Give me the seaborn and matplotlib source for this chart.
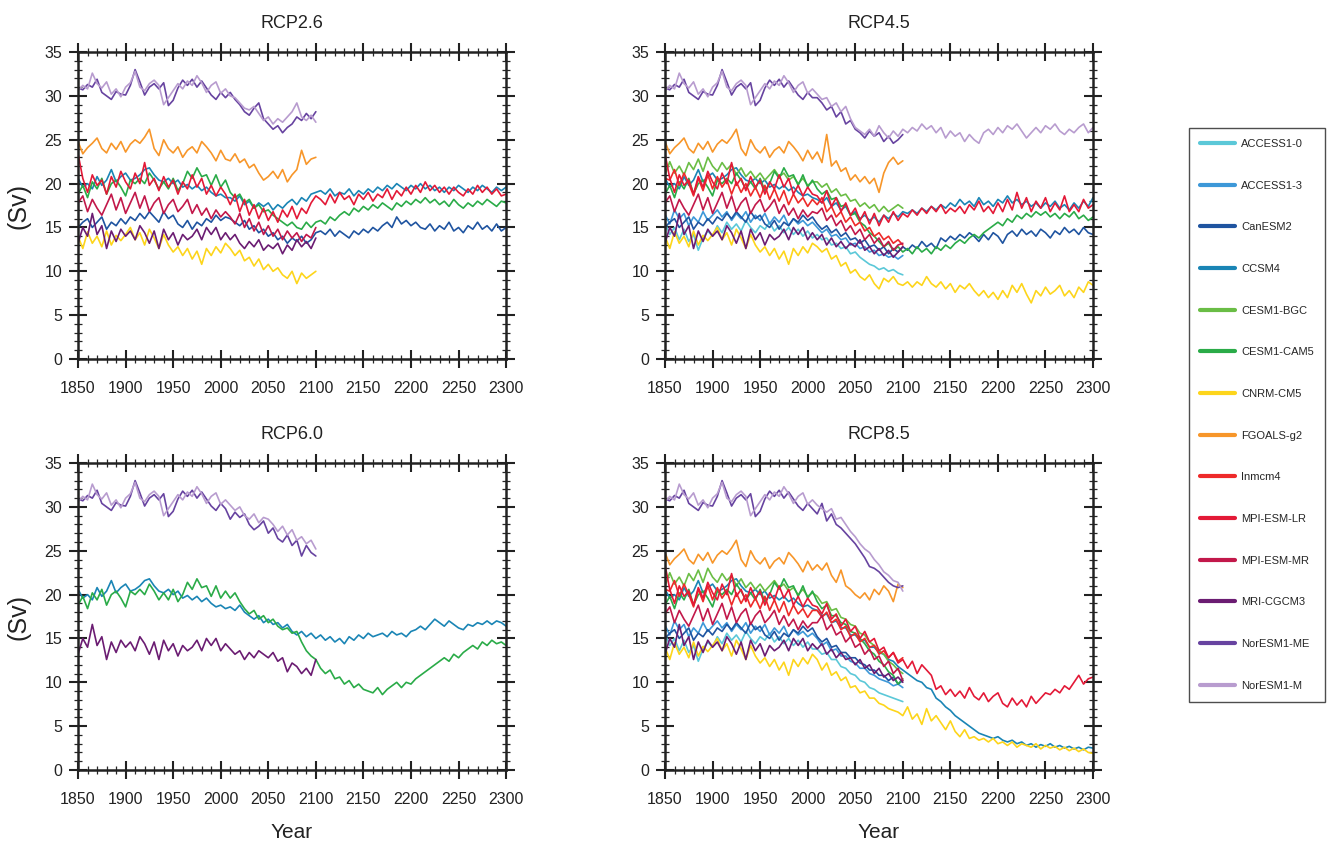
import numpy as np
import pandas as pd
import matplotlib
matplotlib.use("Agg")
import matplotlib.pyplot as plt
from matplotlib.lines import Line2D
from matplotlib.ticker import MultipleLocator
import seaborn as sns

sns.set_theme(style="ticks")
plt.rcParams["font.family"] = ["Liberation Sans", "DejaVu Sans"]

# =============================
# DATA (Sv), historical 1850-2005 every 5 years
# =============================

models = ["ACCESS1-0", "ACCESS1-3", "CanESM2", "CCSM4", "CESM1-BGC", "CESM1-CAM5",
          "CNRM-CM5", "FGOALS-g2", "Inmcm4", "MPI-ESM-LR", "MPI-ESM-MR",
          "MRI-CGCM3", "NorESM1-ME", "NorESM1-M"]
colors = ["#5bc8d8", "#3d98d8", "#1f54a0", "#1a85b5", "#6abd45", "#2aab48",
          "#fdd51b", "#f7962a", "#ee2a2a", "#e31937", "#c2184a",
          "#6b1c72", "#6743a0", "#b89ccf"]

access0_hist = [15.5, 14.2, 15.0, 13.6, 14.8, 13.4, 14.2, 12.4, 13.8, 14.6, 14.0, 15.2, 14.4, 15.6, 14.8, 15.4,
                14.6, 15.8, 15.0, 14.4, 15.2, 14.8, 15.6, 14.6, 15.2, 14.4, 15.0, 14.2, 14.8, 14.0, 14.6, 13.8]
access3_hist = [16.5, 15.4, 17.0, 16.0, 16.6, 15.2, 16.2, 15.6, 16.8, 15.8, 16.4, 17.0, 16.2, 16.8, 15.8, 16.6,
                16.0, 16.8, 15.6, 16.4, 15.8, 16.6, 15.4, 16.2, 15.6, 16.4, 15.2, 16.0, 15.4, 15.8, 15.2, 15.6]
canesm_hist = [15.0, 15.6, 16.0, 15.0, 15.6, 16.2, 14.8, 15.6, 15.2, 16.0, 15.4, 16.2, 15.8, 16.6, 16.0, 16.8,
               16.2, 15.6, 16.8, 16.0, 16.4, 15.4, 15.0, 15.8, 14.8, 15.6, 15.2, 16.0, 15.6, 16.4, 15.8, 16.2]
ccsm4_hist = [20.6, 19.6, 20.0, 19.4, 20.8, 19.8, 20.4, 21.6, 20.2, 20.8, 21.2, 20.4, 20.6, 21.0, 21.6, 21.8,
              21.0, 20.4, 20.2, 20.6, 20.0, 20.4, 19.6, 19.9, 19.4, 19.8, 19.2, 19.6, 19.0, 18.6, 18.8, 18.4]
bgc_hist = [21.0, 22.5, 21.2, 22.0, 21.0, 22.4, 21.6, 22.8, 21.4, 23.0, 22.0, 21.4, 22.4, 21.6, 22.2, 21.0,
            21.8, 20.8, 21.4, 20.6, 21.2, 20.4, 21.0, 21.6, 20.8, 21.2, 20.4, 20.8, 20.0, 20.6, 19.8, 20.2]
cam5_hist = [18.8, 19.8, 18.4, 20.2, 19.4, 20.6, 18.8, 20.0, 20.4, 19.6, 18.6, 20.4, 20.0, 20.6, 20.0, 21.2,
             20.4, 19.4, 20.2, 19.4, 20.6, 19.2, 20.0, 21.4, 20.6, 21.8, 20.8, 21.0, 19.8, 21.0, 19.6, 20.4]
cnrm_hist = [14.0, 12.6, 14.5, 13.2, 14.0, 12.8, 14.6, 13.0, 14.1, 13.5, 14.2, 15.0, 13.6, 14.4, 13.0, 14.8,
             13.8, 12.6, 14.2, 13.0, 12.2, 12.8, 11.8, 12.6, 11.4, 12.3, 10.8, 12.6, 11.8, 12.8, 12.1, 13.2]
fgoals_hist = [24.8, 23.4, 24.1, 24.6, 25.2, 24.0, 23.5, 24.6, 23.9, 24.8, 23.6, 24.5, 25.0, 24.6, 25.3, 26.2,
               24.0, 23.2, 25.0, 24.0, 23.5, 24.2, 23.0, 23.8, 24.2, 23.5, 24.8, 24.2, 23.5, 22.6, 23.8, 22.8]
inm_hist = [20.6, 20.4, 21.6, 19.8, 21.2, 20.0, 18.6, 20.6, 19.2, 21.0, 19.4, 20.8, 19.6, 20.4, 18.8, 20.2,
            19.0, 20.0, 18.6, 19.6, 18.4, 19.8, 18.2, 19.4, 18.0, 19.2, 17.6, 18.8, 17.8, 18.4, 17.4, 18.2]
mpi_lr_hist = [23.4, 20.6, 19.0, 21.0, 19.8, 20.4, 18.8, 20.8, 19.6, 21.4, 20.2, 19.4, 21.2, 20.0, 22.4, 19.8,
               20.6, 19.2, 20.8, 19.6, 20.4, 18.8, 20.2, 19.4, 21.0, 19.6, 20.6, 18.8, 19.8, 18.6, 19.6, 18.8]
mpi_mr_hist = [17.8, 18.6, 16.8, 18.2, 17.2, 16.4, 17.6, 18.8, 17.0, 18.4, 16.6, 17.8, 19.0, 17.2, 18.6, 16.8,
               17.8, 18.4, 16.6, 17.6, 18.2, 16.8, 17.4, 18.2, 16.6, 17.6, 16.4, 17.2, 16.0, 17.0, 16.2, 16.8]
mri_hist = [13.2, 15.0, 14.0, 16.6, 14.2, 15.2, 12.6, 14.6, 13.4, 14.8, 14.0, 14.6, 13.6, 15.2, 14.4, 13.2,
            14.6, 12.6, 14.8, 13.6, 14.4, 13.0, 14.2, 13.6, 14.0, 14.8, 13.6, 15.0, 14.2, 15.0, 13.6, 14.4]
nor_me_hist = [30.9, 30.7, 31.3, 31.0, 31.9, 30.4, 30.0, 29.6, 30.5, 30.2, 30.1, 31.2, 33.0, 31.6, 30.1, 31.0,
               31.4, 30.8, 31.5, 28.9, 29.5, 30.9, 31.8, 31.2, 31.9, 31.0, 31.7, 30.9, 30.1, 29.6, 30.4, 29.8]
nor_m_hist = [30.6, 31.2, 30.8, 32.6, 31.4, 30.9, 31.6, 30.2, 30.8, 29.9, 31.0, 31.5, 32.8, 31.0, 30.6, 31.4,
              31.8, 31.2, 29.0, 29.8, 30.6, 31.4, 30.8, 31.7, 31.2, 32.3, 31.5, 30.4, 31.2, 31.6, 30.3, 30.8]

# =============================
# SCENARIOS, from 2010 every 5 years
# =============================

# RCP2.6
canesm_26 = [16.0, 15.6, 15.2, 15.8, 14.8, 15.2, 14.4, 14.8, 14.0, 14.4, 13.6, 14.0, 13.2, 13.8, 13.4, 14.0, 13.2, 13.6, 14.4,
             14.6, 14.2, 14.8, 14.0, 14.6, 14.2, 13.8, 14.6, 14.2, 14.8, 14.4, 15.0, 14.6, 15.2, 15.6, 15.0, 16.2, 15.4, 15.8, 15.2,
             15.6, 15.0, 14.8, 15.4, 14.6, 15.2, 14.8, 15.6, 14.6, 15.0, 14.4, 15.2, 14.8, 15.6, 14.8, 15.2, 14.6, 15.4, 14.6, 15.0]
ccsm4_26 = [18.4, 18.0, 18.6, 17.6, 18.0, 17.2, 17.8, 17.4, 17.8, 17.0, 17.6, 17.2, 17.8, 18.2, 17.6, 18.4, 18.0, 18.8, 19.0,
            19.2, 18.8, 19.4, 18.6, 19.0, 18.8, 19.4, 18.6, 19.2, 18.8, 19.4, 19.0, 19.6, 19.2, 19.8, 19.4, 20.0, 19.6, 19.2, 19.8,
            19.4, 20.0, 19.4, 19.8, 19.2, 19.6, 19.0, 19.6, 19.2, 19.8, 19.4, 19.0, 19.6, 19.2, 19.8, 19.4, 19.0, 19.6, 19.2, 19.6]
cam5_26 = [19.0, 18.4, 18.8, 17.8, 18.2, 17.2, 17.6, 16.8, 17.0, 16.4, 16.0, 15.6, 15.2, 15.6, 15.0, 14.8, 15.6, 15.0, 15.6,
           15.8, 15.4, 16.2, 15.8, 16.4, 16.8, 16.4, 17.2, 16.8, 17.4, 17.0, 17.6, 17.2, 17.8, 17.4, 17.0, 17.8, 17.4, 18.0, 17.6,
           18.2, 17.8, 18.4, 17.8, 18.2, 17.6, 18.0, 17.4, 18.2, 17.6, 17.2, 17.8, 17.4, 18.0, 17.6, 18.2, 17.8, 17.4, 18.0, 17.8]
cnrm_26 = [12.6, 11.8, 12.4, 11.2, 11.6, 10.6, 11.4, 10.2, 10.8, 10.0, 10.4, 9.6, 9.2, 10.0, 8.6, 9.8, 9.2, 9.6, 10.0]
fgoals_26 = [22.6, 23.4, 22.4, 22.8, 21.8, 22.2, 21.2, 20.4, 20.8, 21.4, 20.6, 21.6, 20.2, 21.0, 21.6, 23.8, 22.2, 22.8, 23.0]
mpi_lr_26 = [17.6, 18.8, 16.8, 18.2, 16.4, 17.6, 16.0, 17.2, 15.8, 16.8, 15.6, 17.0, 16.2, 17.4, 16.0, 17.2, 16.6, 17.8, 18.6,
             18.2, 17.6, 18.8, 17.8, 19.0, 18.2, 18.6, 17.6, 18.8, 18.2, 19.0, 18.0, 18.8, 18.4, 19.4, 18.2, 19.2, 18.6, 19.6, 18.8,
             19.8, 19.0, 20.2, 19.2, 19.8, 19.0, 19.6, 18.8, 19.6, 19.0, 18.6, 19.4, 18.8, 19.8, 19.0, 19.6, 18.8, 19.4, 18.6, 18.8]
mpi_mr_26 = [16.2, 15.4, 16.6, 15.0, 16.0, 14.6, 15.6, 14.2, 15.2, 14.0, 14.8, 13.6, 14.6, 13.8, 14.4, 13.4, 14.2, 13.8, 15.0]
mri_26 = [13.6, 14.2, 13.2, 12.6, 13.4, 12.8, 13.6, 12.4, 13.0, 12.6, 13.2, 12.0, 13.0, 12.4, 13.6, 12.8, 13.4, 12.6, 13.8]
nor_me_26 = [30.4, 29.6, 29.0, 28.2, 27.8, 28.6, 29.2, 27.4, 26.8, 26.2, 26.6, 25.8, 26.4, 26.8, 27.6, 27.2, 28.0, 27.4, 28.2]
nor_m_26 = [30.0, 29.8, 29.2, 28.6, 28.4, 28.8, 28.0, 27.2, 27.6, 26.8, 27.4, 27.0, 27.6, 28.2, 29.2, 27.6, 27.2, 27.8, 27.0]

# RCP4.5
access0_45 = [14.2, 13.6, 13.8, 13.0, 13.2, 12.6, 12.8, 12.0, 12.2, 11.6, 11.2, 10.8, 10.6, 10.2, 10.4, 10.0, 10.2, 9.8, 9.6]
access3_45 = [15.0, 14.4, 14.8, 14.0, 14.2, 13.6, 13.8, 13.0, 13.2, 12.6, 12.8, 12.2, 12.4, 11.8, 12.0, 11.6, 11.8, 11.4, 11.8]
canesm_45 = [15.4, 14.8, 15.2, 14.4, 14.8, 14.0, 14.4, 13.6, 13.8, 13.2, 13.6, 12.8, 13.0, 12.4, 12.8, 12.0, 12.6, 12.2, 12.8,
             12.4, 13.0, 12.6, 13.4, 12.8, 13.2, 12.6, 13.8, 13.4, 14.0, 13.6, 14.2, 13.8, 14.4, 14.0, 13.4, 14.2, 13.6, 14.4, 14.0,
             13.2, 14.2, 14.6, 14.0, 14.8, 14.2, 14.6, 14.0, 14.8, 14.4, 13.8, 14.6, 14.2, 15.0, 14.4, 14.8, 14.2, 15.0, 14.4, 14.2]
ccsm4_45 = [18.2, 17.8, 18.4, 17.4, 17.8, 17.0, 17.4, 16.4, 16.8, 16.0, 16.4, 15.8, 16.2, 15.6, 16.4, 16.0, 16.6, 16.2, 16.8,
            16.6, 17.0, 16.6, 17.2, 16.8, 17.4, 17.0, 17.6, 17.2, 17.8, 17.4, 18.2, 17.6, 18.0, 17.4, 18.4, 17.6, 18.0, 17.4, 18.2,
            17.8, 18.6, 17.8, 18.2, 17.6, 18.0, 17.4, 17.8, 17.2, 17.8, 17.4, 18.0, 17.2, 17.6, 17.0, 17.8, 17.2, 18.0, 17.4, 18.4]
bgc_45 = [20.2, 19.6, 20.0, 19.0, 19.4, 18.6, 18.8, 18.0, 18.2, 17.4, 17.8, 17.2, 17.6, 16.8, 17.4, 16.8, 17.2, 17.6, 17.2]
cam5_45 = [19.4, 18.8, 19.2, 18.2, 18.4, 17.4, 17.6, 16.4, 16.6, 15.6, 15.2, 14.4, 14.0, 13.4, 12.8, 13.2, 12.4, 12.8, 12.2,
           12.6, 12.0, 12.8, 12.2, 12.6, 12.0, 12.8, 12.4, 13.0, 12.6, 13.2, 13.6, 13.2, 13.8, 14.2, 13.8, 14.4, 14.8, 15.2, 15.6,
           15.2, 16.0, 15.6, 16.4, 16.0, 16.6, 16.2, 16.8, 16.4, 16.8, 16.2, 16.6, 16.0, 16.6, 16.2, 16.8, 16.0, 16.4, 15.8, 16.2]
cnrm_45 = [12.8, 12.2, 12.6, 11.4, 11.8, 10.6, 11.0, 9.8, 10.2, 9.4, 9.0, 9.6, 8.6, 8.0, 9.2, 8.8, 9.4, 8.6, 8.4,
           8.8, 8.2, 8.8, 8.4, 9.4, 8.6, 8.2, 8.8, 8.0, 8.6, 7.6, 8.4, 8.0, 8.6, 7.8, 7.2, 7.8, 7.0, 7.6, 6.8,
           7.8, 7.0, 8.4, 7.6, 8.6, 7.4, 6.4, 7.8, 7.2, 8.2, 7.4, 7.8, 8.4, 7.2, 7.8, 7.0, 8.2, 7.6, 8.8, 8.4]
fgoals_45 = [23.6, 22.4, 25.6, 22.0, 22.6, 21.4, 21.8, 20.4, 21.0, 20.2, 20.8, 20.0, 20.6, 19.0, 21.2, 22.4, 23.0, 22.2, 22.6]
inm_45 = [17.6, 18.4, 16.8, 17.4, 16.2, 16.8, 15.6, 16.2, 15.2, 15.6, 14.6, 15.0, 14.0, 14.4, 13.6, 14.0, 13.2, 13.6, 13.0]
mpi_lr_45 = [18.6, 17.8, 19.2, 17.4, 18.4, 16.8, 17.8, 16.4, 17.2, 15.8, 16.8, 15.4, 16.6, 15.2, 16.4, 15.6, 16.8, 15.8, 16.6,
             16.2, 17.0, 16.4, 17.2, 16.6, 17.4, 16.8, 17.6, 16.6, 17.2, 16.8, 17.4, 16.6, 17.6, 17.0, 18.0, 16.8, 17.4, 16.6, 17.8,
             16.8, 18.2, 17.0, 19.0, 17.2, 18.4, 16.8, 18.0, 17.2, 18.4, 16.8, 17.8, 17.0, 18.6, 16.8, 17.6, 16.8, 18.2, 17.2, 17.6]
mpi_mr_45 = [16.6, 17.2, 15.8, 16.4, 15.2, 15.8, 14.6, 15.2, 14.2, 14.8, 13.6, 14.2, 13.2, 13.8, 12.8, 13.4, 12.4, 13.0, 13.2]
mri_45 = [13.6, 14.2, 13.0, 13.8, 12.8, 13.4, 12.6, 13.2, 12.8, 13.6, 12.4, 12.8, 12.0, 12.6, 11.8, 12.4, 11.6, 12.2, 12.8]
nor_me_45 = [29.8, 29.2, 28.4, 28.8, 27.6, 28.2, 26.8, 27.2, 26.2, 25.8, 25.2, 26.0, 25.4, 25.8, 24.8, 25.4, 24.6, 25.0, 25.6]
nor_m_45 = [30.2, 29.6, 29.8, 28.8, 29.2, 28.2, 28.8, 27.4, 26.4, 26.0, 25.6, 26.2, 25.4, 26.6, 25.8, 25.2, 26.0, 25.4, 26.2,
            25.8, 26.4, 26.0, 26.8, 26.2, 26.6, 25.8, 26.4, 25.2, 26.0, 25.4, 25.8, 24.8, 25.6, 25.0, 24.6, 25.8, 26.2, 25.6, 26.4,
            25.8, 26.6, 26.2, 26.8, 26.0, 25.2, 25.8, 26.4, 25.8, 26.6, 26.2, 26.8, 26.0, 25.6, 26.2, 25.8, 26.4, 26.8, 25.8, 26.4]

# RCP6.0
ccsm4_60 = [18.6, 18.2, 18.8, 18.0, 17.6, 17.2, 17.6, 16.8, 17.2, 16.6, 16.8, 16.2, 16.6, 15.8, 15.4, 15.8, 15.2, 15.6, 15.0,
            15.4, 14.8, 15.2, 14.6, 15.0, 14.4, 15.2, 14.8, 15.4, 15.0, 15.6, 15.2, 15.4, 15.6, 15.2, 15.8, 15.4, 15.6, 15.2, 15.8,
            16.0, 16.4, 16.0, 16.6, 17.2, 16.8, 16.4, 17.0, 16.6, 16.2, 16.0, 16.6, 16.4, 16.8, 16.6, 17.0, 16.6, 17.0, 16.8, 16.4]
cam5_60 = [19.6, 20.2, 19.2, 18.4, 17.8, 18.2, 17.2, 17.6, 16.8, 17.2, 16.4, 16.0, 16.2, 15.6, 15.8, 14.6, 13.6, 13.0, 12.6,
           11.6, 11.0, 11.4, 10.4, 10.6, 9.8, 10.2, 9.4, 9.8, 9.2, 9.0, 8.8, 9.4, 8.6, 9.2, 9.6, 10.0, 9.4, 10.0, 9.8,
           10.4, 10.8, 11.2, 11.6, 12.0, 12.4, 12.8, 12.4, 13.2, 12.8, 13.4, 13.8, 14.2, 13.8, 14.6, 14.2, 14.8, 14.4, 14.6, 14.2]
mri_60 = [13.8, 13.2, 13.6, 12.6, 13.4, 12.8, 13.6, 13.2, 12.8, 13.4, 12.4, 12.8, 11.2, 12.2, 11.8, 11.0, 11.6, 10.8, 12.6]
nor_me_60 = [28.6, 29.4, 28.8, 29.2, 28.0, 27.4, 27.8, 28.4, 27.0, 27.6, 26.4, 26.0, 26.8, 25.6, 26.2, 24.4, 25.6, 24.8, 24.4]
nor_m_60 = [30.2, 29.6, 30.0, 29.0, 28.6, 29.2, 28.2, 28.8, 28.6, 28.0, 27.2, 27.8, 26.8, 27.4, 26.2, 26.6, 25.8, 26.2, 25.2]

# RCP8.5
access0_85 = [13.8, 13.2, 13.4, 12.6, 12.6, 11.8, 11.6, 11.0, 10.8, 10.2, 10.0, 9.4, 9.2, 8.8, 8.6, 8.4, 8.2, 8.0, 7.8]
access3_85 = [15.0, 14.2, 14.6, 13.6, 13.8, 13.0, 13.0, 12.4, 12.2, 11.6, 11.6, 11.0, 10.8, 10.4, 10.2, 10.0, 9.6, 9.8, 9.4]
canesm_85 = [15.2, 14.6, 15.0, 14.0, 14.2, 13.4, 13.4, 12.8, 12.8, 12.2, 12.0, 11.4, 11.4, 10.8, 10.8, 10.2, 10.6, 9.8, 10.2]
ccsm4_85 = [18.2, 17.6, 17.8, 16.8, 17.0, 16.2, 16.2, 15.4, 15.4, 14.8, 14.8, 14.0, 14.0, 13.4, 13.2, 12.6, 12.4, 11.8, 11.4,
            11.0, 10.6, 10.2, 10.0, 9.4, 9.2, 8.2, 7.8, 7.2, 6.8, 6.2, 5.8, 5.4, 5.0, 4.6, 4.2, 4.0, 3.8, 3.6, 3.8,
            3.4, 3.2, 3.4, 3.0, 3.2, 2.8, 3.0, 2.6, 2.9, 2.7, 3.0, 2.6, 2.8, 2.5, 2.7, 2.4, 2.6, 2.3, 2.6, 2.5]
bgc_85 = [19.8, 19.0, 19.2, 18.2, 18.4, 17.4, 17.2, 16.6, 16.4, 15.6, 15.4, 14.6, 14.2, 13.6, 13.2, 12.4, 12.0, 11.4, 11.0]
cam5_85 = [19.2, 18.4, 18.8, 17.6, 17.6, 16.8, 16.6, 15.8, 15.6, 15.0, 14.4, 13.6, 13.2, 12.4, 12.0, 11.2, 10.8, 9.8, 10.4]
cnrm_85 = [12.6, 11.4, 12.2, 10.8, 11.2, 10.2, 10.6, 9.4, 9.6, 8.8, 9.0, 8.2, 8.2, 7.6, 7.4, 7.0, 6.8, 6.6, 6.2,
           7.2, 5.8, 6.4, 5.2, 7.0, 5.6, 6.2, 5.4, 4.6, 5.6, 4.4, 3.8, 4.6, 3.6, 3.8, 3.4, 3.6, 3.2, 3.6, 3.0,
           3.2, 2.8, 3.2, 2.6, 3.0, 2.8, 2.6, 3.0, 2.4, 2.8, 2.5, 2.7, 2.3, 2.6, 2.2, 2.5, 2.1, 2.4, 2.0, 1.9]
fgoals_85 = [23.4, 22.8, 23.6, 22.2, 21.4, 22.8, 21.0, 20.6, 20.0, 19.6, 20.2, 19.4, 20.6, 20.0, 21.0, 20.4, 19.2, 21.2, 20.8]
inm_85 = [18.2, 17.4, 18.0, 16.8, 17.2, 16.0, 16.4, 15.2, 15.6, 14.6, 15.0, 14.0, 14.2, 13.2, 13.6, 12.8, 13.4, 12.4, 12.8]
mpi_lr_85 = [18.6, 17.8, 19.0, 17.2, 17.8, 16.4, 17.2, 15.8, 16.4, 15.0, 15.8, 14.6, 15.0, 13.6, 14.0, 12.8, 13.4, 12.2, 12.6,
             11.6, 12.4, 11.0, 12.0, 11.4, 10.8, 9.2, 9.6, 8.6, 9.2, 8.4, 9.0, 8.2, 9.4, 8.4, 8.0, 8.8, 7.8, 8.4, 8.8,
             7.6, 7.2, 8.2, 7.4, 8.0, 7.2, 8.4, 7.6, 8.2, 8.8, 8.6, 9.2, 8.8, 9.6, 9.2, 10.0, 10.8, 9.8, 10.4, 10.6]
mpi_mr_85 = [16.8, 17.6, 16.0, 16.6, 15.4, 15.8, 14.6, 15.2, 14.0, 14.4, 13.2, 13.8, 12.6, 13.0, 11.8, 12.4, 11.0, 11.6, 10.2]
mri_85 = [13.8, 14.4, 13.2, 13.8, 12.8, 13.4, 12.6, 12.8, 12.0, 12.6, 11.6, 12.0, 11.0, 11.6, 10.6, 11.0, 10.2, 10.6, 10.0]
nor_me_85 = [29.2, 30.4, 28.4, 29.2, 28.0, 27.6, 27.0, 26.4, 25.8, 25.0, 24.2, 23.2, 23.0, 22.6, 22.0, 21.4, 21.0, 20.8, 21.0]
nor_m_85 = [30.2, 29.8, 29.4, 29.8, 28.6, 28.8, 28.0, 27.2, 26.6, 25.8, 25.2, 24.8, 24.0, 23.4, 22.6, 22.2, 21.6, 21.4, 20.4]

hist = {
    "ACCESS1-0": access0_hist, "ACCESS1-3": access3_hist, "CanESM2": canesm_hist,
    "CCSM4": ccsm4_hist, "CESM1-BGC": bgc_hist, "CESM1-CAM5": cam5_hist,
    "CNRM-CM5": cnrm_hist, "FGOALS-g2": fgoals_hist, "Inmcm4": inm_hist,
    "MPI-ESM-LR": mpi_lr_hist, "MPI-ESM-MR": mpi_mr_hist, "MRI-CGCM3": mri_hist,
    "NorESM1-ME": nor_me_hist, "NorESM1-M": nor_m_hist,
}

scenarios = {
    "RCP2.6": {"CanESM2": canesm_26, "CCSM4": ccsm4_26, "CESM1-CAM5": cam5_26, "CNRM-CM5": cnrm_26,
               "FGOALS-g2": fgoals_26, "MPI-ESM-LR": mpi_lr_26, "MPI-ESM-MR": mpi_mr_26,
               "MRI-CGCM3": mri_26, "NorESM1-ME": nor_me_26, "NorESM1-M": nor_m_26},
    "RCP4.5": {"ACCESS1-0": access0_45, "ACCESS1-3": access3_45, "CanESM2": canesm_45, "CCSM4": ccsm4_45,
               "CESM1-BGC": bgc_45, "CESM1-CAM5": cam5_45, "CNRM-CM5": cnrm_45, "FGOALS-g2": fgoals_45,
               "Inmcm4": inm_45, "MPI-ESM-LR": mpi_lr_45, "MPI-ESM-MR": mpi_mr_45,
               "MRI-CGCM3": mri_45, "NorESM1-ME": nor_me_45, "NorESM1-M": nor_m_45},
    "RCP6.0": {"CCSM4": ccsm4_60, "CESM1-CAM5": cam5_60, "MRI-CGCM3": mri_60,
               "NorESM1-ME": nor_me_60, "NorESM1-M": nor_m_60},
    "RCP8.5": {"ACCESS1-0": access0_85, "ACCESS1-3": access3_85, "CanESM2": canesm_85, "CCSM4": ccsm4_85,
               "CESM1-BGC": bgc_85, "CESM1-CAM5": cam5_85, "CNRM-CM5": cnrm_85, "FGOALS-g2": fgoals_85,
               "Inmcm4": inm_85, "MPI-ESM-LR": mpi_lr_85, "MPI-ESM-MR": mpi_mr_85,
               "MRI-CGCM3": mri_85, "NorESM1-ME": nor_me_85, "NorESM1-M": nor_m_85},
}

palette = dict(zip(models, colors))

# =============================
# FIGURE
# =============================

fig = plt.figure(figsize=(13.41, 8.41), dpi=100)

positions = {
    "RCP2.6": [0.0582, 0.5731, 0.3192, 0.365],
    "RCP4.5": [0.4959, 0.5731, 0.3192, 0.365],
    "RCP6.0": [0.0582, 0.0844, 0.3192, 0.365],
    "RCP8.5": [0.4959, 0.0844, 0.3192, 0.365],
}

for scen, runs in scenarios.items():
    ax = fig.add_axes(positions[scen])
    frames = []
    for m in models:
        if m not in runs:
            continue
        h = hist[m]
        f = runs[m]
        yrs = np.concatenate([1850 + 5 * np.arange(len(h)), 2010 + 5 * np.arange(len(f))])
        frames.append(pd.DataFrame({"year": yrs, "sv": np.concatenate([h, f]), "model": m}))
    df = pd.concat(frames, ignore_index=True)

    sns.lineplot(data=df, x="year", y="sv", hue="model", palette=palette,
                 hue_order=[m for m in models if m in runs], estimator=None,
                 sort=False, linewidth=1.2, legend=False, ax=ax)

    ax.set_xlim(1850, 2300)
    ax.set_ylim(0, 35)
    ax.xaxis.set_major_locator(MultipleLocator(50))
    ax.xaxis.set_minor_locator(MultipleLocator(10))
    ax.yaxis.set_major_locator(MultipleLocator(5))
    ax.yaxis.set_minor_locator(MultipleLocator(1))
    ax.tick_params(which="major", direction="inout", length=13, width=1.5,
                   top=True, right=True, labelsize=11.5, colors="#222222")
    ax.tick_params(which="minor", direction="inout", length=6, width=0.9,
                   top=True, right=True)
    ax.tick_params(axis="x", which="major", pad=9)
    ax.tick_params(axis="y", which="major", pad=5)
    for s in ax.spines.values():
        s.set_linewidth(1.8)
        s.set_color("#222222")
    ax.set_title(scen, fontsize=13, pad=17, color="#222222")

    if scen in ("RCP2.6", "RCP6.0"):
        ax.set_ylabel("(Sv)", fontsize=18, labelpad=10, color="#222222")
    else:
        ax.set_ylabel("")
    if scen in ("RCP6.0", "RCP8.5"):
        ax.set_xlabel("Year", fontsize=15, labelpad=12, color="#222222")
    else:
        ax.set_xlabel("")

handles = [Line2D([0], [0], color=c, lw=3) for c in colors]
leg = fig.legend(handles, models, loc="upper left", bbox_to_anchor=(0.8865, 0.848),
                 fontsize=8, labelspacing=2.85, handlelength=3.2, handletextpad=0.5,
                 borderpad=1.0, borderaxespad=0, frameon=True, fancybox=False)
leg.get_frame().set_edgecolor("#222222")
leg.get_frame().set_linewidth(1.0)

fig.savefig("out.png", dpi=100)
